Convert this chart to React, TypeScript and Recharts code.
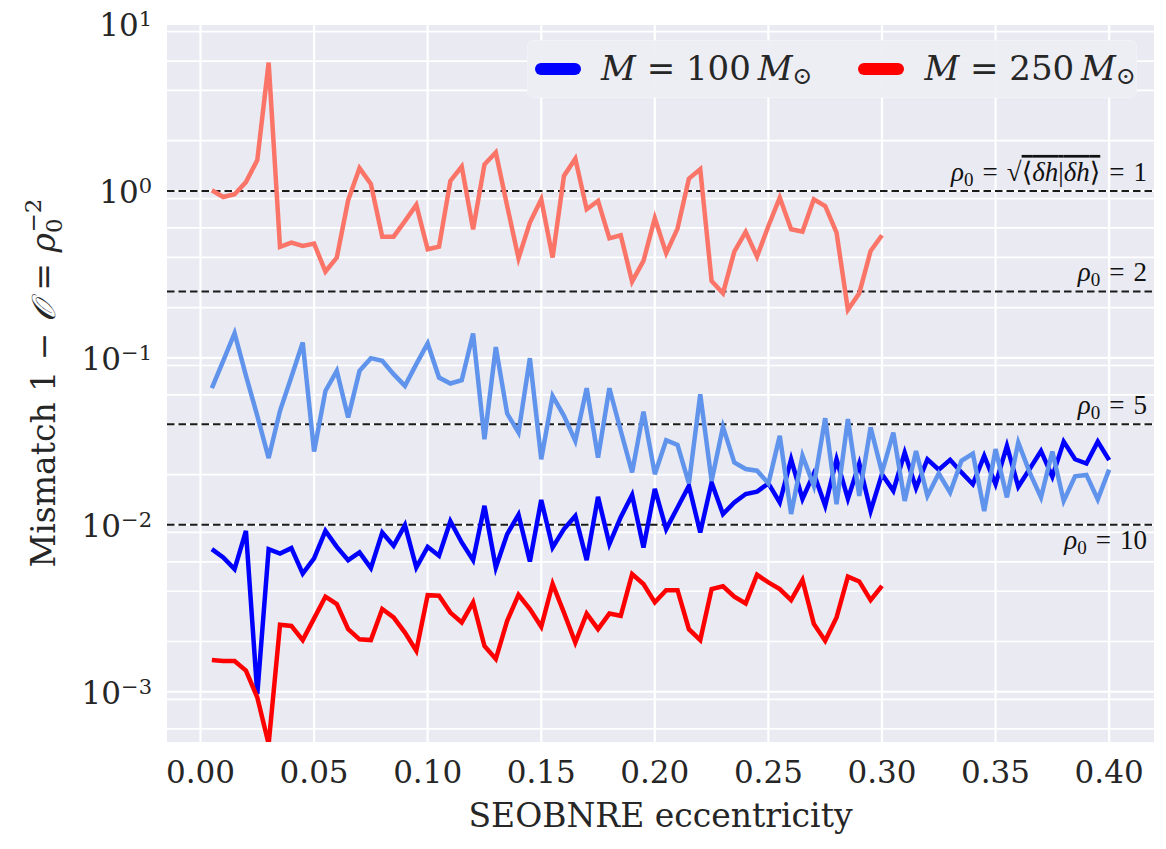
import React from "react";
import {
  LineChart,
  Line,
  XAxis,
  YAxis,
  CartesianGrid,
  ReferenceLine,
  Legend,
} from "recharts";

const ECCENTRICITY = [
  0.005, 0.01, 0.015, 0.02, 0.025, 0.03, 0.035, 0.04, 0.045, 0.05,
  0.055, 0.06, 0.065, 0.07, 0.075, 0.08, 0.085, 0.09, 0.095, 0.1,
  0.105, 0.11, 0.115, 0.12, 0.125, 0.13, 0.135, 0.14, 0.145, 0.15,
  0.155, 0.16, 0.165, 0.17, 0.175, 0.18, 0.185, 0.19, 0.195, 0.2,
  0.205, 0.21, 0.215, 0.22, 0.225, 0.23, 0.235, 0.24, 0.245, 0.25,
  0.255, 0.26, 0.265, 0.27, 0.275, 0.28, 0.285, 0.29, 0.295, 0.3,
  0.305, 0.31, 0.315, 0.32, 0.325, 0.33, 0.335, 0.34, 0.345, 0.35,
  0.355, 0.36, 0.365, 0.37, 0.375, 0.38, 0.385, 0.39, 0.395, 0.4,
];

// M = 250 Msun, upper (light) curve, e = 0.005 .. 0.300
const M250_UPPER = [
  1.01, 0.92, 0.955, 1.13, 1.53, 5.87, 0.462, 0.49, 0.468, 0.484,
  0.329, 0.399, 0.88, 1.37, 1.1, 0.532, 0.532, 0.66, 0.825, 0.447,
  0.464, 1.148, 1.4, 0.589, 1.44, 1.7, 0.813, 0.395, 0.646, 0.892,
  0.399, 1.23, 1.56, 0.777, 0.871, 0.52, 0.543, 0.286, 0.381, 0.686,
  0.424, 0.595, 1.185, 1.35, 0.289, 0.244, 0.433, 0.568, 0.404, 0.617,
  0.912, 0.589, 0.571, 0.892, 0.813, 0.563, 0.194, 0.244, 0.437, 0.543,
];

// M = 250 Msun, lower curve
const M250_LOWER = [
  0.00155, 0.00153, 0.00153, 0.00134, 0.000925, 0.000486, 0.00252, 0.00248, 0.00204, 0.00275,
  0.00371, 0.00335, 0.00237, 0.00206, 0.00204, 0.00313, 0.00279, 0.00226, 0.00176, 0.00379,
  0.00376, 0.00298, 0.0026, 0.00343, 0.00188, 0.00157, 0.00266, 0.00381, 0.00313, 0.00245,
  0.00442, 0.00298, 0.00197, 0.00294, 0.00237, 0.00294, 0.00285, 0.00507, 0.00442, 0.00343,
  0.00406, 0.00406, 0.00237, 0.00204, 0.00412, 0.00428, 0.00371, 0.00338, 0.00502, 0.00452,
  0.00412, 0.00354, 0.00467, 0.00255, 0.00202, 0.00279, 0.00489, 0.00458, 0.00354, 0.00431,
];

// M = 100 Msun, upper (light) curve, e = 0.005 .. 0.400
const M100_UPPER = [
  0.0658, 0.096, 0.1406, 0.0783, 0.045, 0.0251, 0.0482, 0.0769, 0.1235, 0.0275,
  0.0634, 0.0836, 0.0439, 0.0836, 0.0996, 0.096, 0.0799, 0.068, 0.0917, 0.122,
  0.0762, 0.0702, 0.0735, 0.14, 0.0326, 0.116, 0.0464, 0.0357, 0.0996, 0.0247,
  0.0592, 0.045, 0.0318, 0.0658, 0.0253, 0.0658, 0.0366, 0.0206, 0.0477, 0.0201,
  0.0321, 0.0301, 0.0177, 0.0606, 0.0183, 0.0386, 0.0236, 0.0216, 0.0211, 0.0177,
  0.0341, 0.0116, 0.0259, 0.0171, 0.0435, 0.0133, 0.043, 0.0149, 0.0383, 0.0206,
  0.0357, 0.0139, 0.0277, 0.0149, 0.0203, 0.0156, 0.0242, 0.0267, 0.0121, 0.0284,
  0.0146, 0.0311, 0.0206, 0.0146, 0.0275, 0.0139, 0.0195, 0.0199, 0.0142, 0.0214,
];

// M = 100 Msun, lower curve
const M100_LOWER = [
  0.00715, 0.00637, 0.00543, 0.0092, 0.00097, 0.00715, 0.00673, 0.00725, 0.0051, 0.0063,
  0.0092, 0.00738, 0.00614, 0.00683, 0.0055, 0.009, 0.00749, 0.00996, 0.00555, 0.00738,
  0.00652, 0.0105, 0.00784, 0.00614, 0.013, 0.00555, 0.0088, 0.0115, 0.00603, 0.0141,
  0.00731, 0.00942, 0.0113, 0.00614, 0.0147, 0.00766, 0.0111, 0.0151, 0.00731, 0.0164,
  0.00942, 0.0127, 0.0171, 0.009, 0.0179, 0.0116, 0.0136, 0.0153, 0.0158, 0.0177,
  0.0136, 0.0247, 0.0143, 0.0203, 0.013, 0.0247, 0.0143, 0.0233, 0.0121, 0.0201,
  0.016, 0.0271, 0.0166, 0.0247, 0.0214, 0.0245, 0.0206, 0.0175, 0.0259, 0.0175,
  0.0297, 0.0169, 0.0216, 0.0277, 0.0194, 0.0315, 0.0247, 0.0233, 0.0315, 0.0244,
];

const X_TICKS = [0, 0.05, 0.1, 0.15, 0.2, 0.25, 0.3, 0.35, 0.4];
const Y_TICKS = [0.001, 0.01, 0.1, 1, 10];
const Y_MINOR = [
  0.0006, 0.0007, 0.0008, 0.0009,
  0.002, 0.003, 0.004, 0.005, 0.006, 0.007, 0.008, 0.009,
  0.02, 0.03, 0.04, 0.05, 0.06, 0.07, 0.08, 0.09,
  0.2, 0.3, 0.4, 0.5, 0.6, 0.7, 0.8, 0.9,
  2, 3, 4, 5, 6, 7, 8, 9,
];

// mismatch = 1 / rho^2
const RHO_LABELS = ["1", "2", "5", "10"];
const RHO_MISMATCH = [1, 0.25, 0.04, 0.01];

const LEGEND_MASSES = ["100", "250"];
const LEGEND_COLORS = ["#0000FF", "#FF0000"];

const data = ECCENTRICITY.map((e, i) => ({
  ecc: e,
  m250up: M250_UPPER[i],
  m250lo: M250_LOWER[i],
  m100up: M100_UPPER[i],
  m100lo: M100_LOWER[i],
}));

const INK = "#262626";
const SERIF = "'DejaVu Serif', serif";
const TEX = "'Liberation Serif', 'DejaVu Serif', serif";
const EQ = "\u2004=\u2004";
const LW = 4.5;

function XTick({ x, y, payload }: any) {
  return (
    <text x={x} y={y + 41} textAnchor="middle" fontFamily={SERIF} fontSize={31} fill={INK}>
      {Number(payload.value).toFixed(2)}
    </text>
  );
}

function YTick({ x, y, payload }: any) {
  const exp = Math.round(Math.log10(payload.value));
  return (
    <text x={x} y={y + 12} textAnchor="end" fontFamily={SERIF} fontSize={31} fill={INK}>
      10
      <tspan dy={-10} fontSize={21}>
        {exp < 0 ? `\u2212${-exp}` : String(exp)}
      </tspan>
    </text>
  );
}

function YLabel({ viewBox }: any) {
  const cx = viewBox.x + 55;
  const cy = viewBox.y + viewBox.height / 2;
  return (
    <text
      x={cx}
      y={cy}
      transform={`rotate(-90 ${cx} ${cy})`}
      textAnchor="middle"
      fontFamily={SERIF}
      fontSize={33}
      fill={INK}
    >
      {"Mismatch 1 \u2212 "}
      <tspan fontStyle="italic">{"\u{1D4AA}"}</tspan>
      {" = "}
      <tspan fontStyle="italic">ρ</tspan>
      <tspan fontSize={23} dy={7}>0</tspan>
      <tspan fontSize={23} dx={-14} dy={-21}>{"\u22122"}</tspan>
    </text>
  );
}

function XLabel({ viewBox }: any) {
  return (
    <text
      x={viewBox.x + viewBox.width / 2}
      y={viewBox.y + 85}
      textAnchor="middle"
      fontFamily={SERIF}
      fontSize={33}
      fill={INK}
    >
      SEOBNRE eccentricity
    </text>
  );
}

function rhoLabel(rho: string, below: boolean) {
  return ({ viewBox }: any) => {
    const xr = viewBox.x + viewBox.width - 7;
    const y = below ? viewBox.y + 24 : viewBox.y - 10;
    return (
      <text x={xr} y={y} textAnchor="end" fontFamily={TEX} fontSize={27} fill="#111">
        <tspan fontStyle="italic">ρ</tspan>
        <tspan fontSize={19} dy={5}>0</tspan>
        {rho === "1" ? (
          <>
            <tspan dy={-5}>{`${EQ}\u221A`}</tspan>
            <tspan textDecoration="overline">
              {"\u27E8"}
              <tspan fontStyle="italic">δh</tspan>
              {"|"}
              <tspan fontStyle="italic">δh</tspan>
              {"\u27E9"}
            </tspan>
            <tspan>{`${EQ}1`}</tspan>
          </>
        ) : (
          <tspan dy={-5}>{`${EQ}${rho}`}</tspan>
        )}
      </text>
    );
  };
}

function LegendBox() {
  return (
    <div
      style={{
        width: 610,
        height: 58,
        boxSizing: "border-box",
        background: "rgba(237,237,244,0.92)",
        border: "1px solid #F1F1F6",
        borderRadius: 5,
        display: "flex",
        alignItems: "center",
        fontFamily: SERIF,
        fontSize: 34,
        color: INK,
      }}
    >
      {LEGEND_MASSES.map((m, i) => (
        <div
          key={m}
          style={{ display: "flex", alignItems: "center", marginLeft: i === 0 ? 7 : 0, width: i === 0 ? 324 : "auto" }}
        >
          <span
            style={{ display: "inline-block", width: 46, height: 12, borderRadius: 6, background: LEGEND_COLORS[i] }}
          />
          <span style={{ marginLeft: 20, whiteSpace: "nowrap", lineHeight: 1 }}>
            <i>M</i>
            {" = "}
            {m}
            {"\u2009"}
            <i>M</i>
            <sub style={{ fontSize: 24, verticalAlign: "-4px" }}>{"\u2299"}</sub>
          </span>
        </div>
      ))}
    </div>
  );
}

export default function App() {
  return (
    <div style={{ position: "absolute", left: 0, top: 0, width: 1166, height: 849, background: "#fff" }}>
      <LineChart width={1166} height={849} data={data} margin={{ top: 24, right: 12, bottom: 0, left: 0 }}>
        <CartesianGrid fill="#EAEAF2" stroke="#FFFFFF" strokeWidth={1.7} vertical={false} horizontalValues={Y_MINOR} />
        <CartesianGrid stroke="#FFFFFF" strokeWidth={2.2} horizontalValues={Y_TICKS} verticalValues={X_TICKS} />
        <XAxis
          dataKey="ecc"
          type="number"
          domain={[-0.01475, 0.41975]}
          ticks={X_TICKS}
          allowDataOverflow
          height={107}
          tickLine={false}
          axisLine={false}
          tickSize={0}
          tickMargin={0}
          tick={<XTick />}
          label={{ content: <XLabel /> }}
        />
        <YAxis
          type="number"
          scale="log"
          domain={[0.0005, 10]}
          ticks={Y_TICKS}
          allowDataOverflow
          width={167}
          tickLine={false}
          axisLine={false}
          tickSize={0}
          tickMargin={15}
          tick={<YTick />}
          label={{ content: <YLabel /> }}
        />
        {RHO_MISMATCH.map((v, i) => (
          <ReferenceLine
            key={RHO_LABELS[i]}
            y={v}
            stroke="#1a1a1a"
            strokeWidth={2}
            strokeDasharray="7.5 4"
            label={{ content: rhoLabel(RHO_LABELS[i], RHO_LABELS[i] === "10") }}
          />
        ))}
        <Line dataKey="m100lo" name="M100" type="linear" stroke="#0000FF" strokeWidth={LW} dot={false} isAnimationActive={false} />
        <Line dataKey="m250lo" name="M250" type="linear" stroke="#FF0000" strokeWidth={LW} dot={false} isAnimationActive={false} />
        <Line dataKey="m100up" type="linear" stroke="#6093EC" strokeWidth={LW} dot={false} legendType="none" isAnimationActive={false} />
        <Line dataKey="m250up" type="linear" stroke="#FA7468" strokeWidth={LW} dot={false} legendType="none" isAnimationActive={false} />
        <Legend
          layout="horizontal"
          verticalAlign="middle"
          align="center"
          wrapperStyle={{ position: "absolute", left: 527, top: 40, width: 610, height: 58 }}
          content={() => <LegendBox />}
        />
      </LineChart>
    </div>
  );
}
